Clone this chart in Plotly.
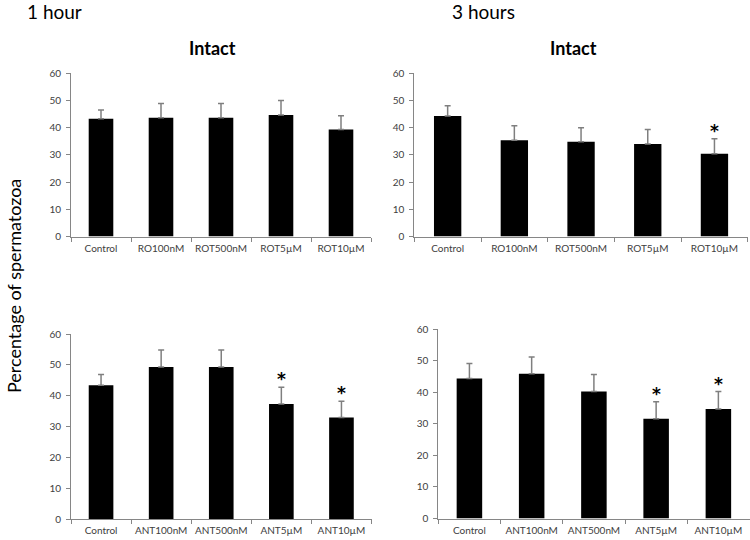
import plotly.graph_objects as go

# ---------------- data ----------------
rot_labels = ["Control", "RO100nM", "ROT500nM", "ROT5µM", "ROT10µM"]
ant_labels = ["Control", "ANT100nM", "ANT500nM", "ANT5µM", "ANT10µM"]

rot_1h_mean = [43.3, 43.7, 43.7, 44.7, 39.3]
rot_1h_err = [3.2, 5.2, 5.2, 5.3, 5.1]
rot_1h_sig = [False, False, False, False, False]

rot_3h_mean = [44.3, 35.4, 34.8, 34.0, 30.4]
rot_3h_err = [3.8, 5.3, 5.2, 5.3, 5.5]
rot_3h_sig = [False, False, False, False, True]

ant_1h_mean = [43.4, 49.3, 49.3, 37.3, 32.9]
ant_1h_err = [3.5, 5.5, 5.5, 5.4, 5.3]
ant_1h_sig = [False, False, False, True, True]

ant_3h_mean = [44.3, 45.8, 40.2, 31.6, 34.7]
ant_3h_err = [4.8, 5.3, 5.4, 5.4, 5.5]
ant_3h_sig = [False, False, False, True, True]

y_ticks = [0, 10, 20, 30, 40, 50, 60]

# ---------------- styling ----------------
FONT = "Lato, Open Sans, sans-serif"
AXIS_COLOR = "#868686"
TICK_COLOR = "#404040"
W, H = 750, 540


def px_x(v):
    return v / W


def px_y(v):
    return 1 - v / H


panels = [
    # labels, mean, err, sig, x-domain(px), y-domain(px top,bottom)
    (rot_labels, rot_1h_mean, rot_1h_err, rot_1h_sig, (71, 371), (73.3, 236.5)),
    (rot_labels, rot_3h_mean, rot_3h_err, rot_3h_sig, (414.3, 747.8), (73.3, 236.5)),
    (ant_labels, ant_1h_mean, ant_1h_err, ant_1h_sig, (71, 371.5), (334, 519)),
    (ant_labels, ant_3h_mean, ant_3h_err, ant_3h_sig, (438.3, 749.5), (329, 518.5)),
]

fig = go.Figure()
annotations = []
layout_axes = {}

for i, (labels, mean, err, sig, xd, yd) in enumerate(panels, start=1):
    xa = "x" if i == 1 else f"x{i}"
    ya = "y" if i == 1 else f"y{i}"
    fig.add_trace(go.Bar(
        x=labels, y=mean,
        xaxis=xa, yaxis=ya,
        marker=dict(color="black", line=dict(width=0)),
        error_y=dict(type="data", array=err, arrayminus=[0] * len(err),
                     symmetric=False, color="#7f7f7f", thickness=1.5, width=3),
        showlegend=False,
        hoverinfo="x+y",
    ))
    xkey = "xaxis" if i == 1 else f"xaxis{i}"
    ykey = "yaxis" if i == 1 else f"yaxis{i}"
    layout_axes[xkey] = dict(
        domain=[px_x(xd[0]), px_x(xd[1])],
        anchor=ya,
        type="category",
        automargin=False,
        tickangle=0,
        showline=True, linecolor=AXIS_COLOR, linewidth=1,
        ticks="outside", tickson="boundaries", ticklen=4, tickcolor=AXIS_COLOR,
        showgrid=False, zeroline=False,
        tickfont=dict(family=FONT, size=10, color=TICK_COLOR),
        ticklabelstandoff=2,
        fixedrange=True,
    )
    layout_axes[ykey] = dict(
        domain=[px_y(yd[1]), px_y(yd[0])],
        anchor=xa,
        automargin=False,
        range=[0, 60],
        tickvals=y_ticks,
        showline=True, linecolor=AXIS_COLOR, linewidth=1,
        ticks="outside", ticklen=4, tickcolor=AXIS_COLOR,
        showgrid=False, zeroline=False,
        tickfont=dict(family=FONT, size=10, color=TICK_COLOR),
        ticklabelstandoff=3,
        fixedrange=True,
    )
    for lab, m, e, s in zip(labels, mean, err, sig):
        if s:
            annotations.append(dict(
                x=lab, y=m + e, xref=xa, yref=ya,
                text="<b>*</b>", showarrow=False,
                font=dict(family="DejaVu Sans", size=17, color="black"),
                yanchor="middle", yshift=8,
            ))

# titles
annotations += [
    dict(x=px_x(25), y=px_y(11.5), xref="paper", yref="paper", xanchor="left", yanchor="middle",
         text="1 hour", showarrow=False, font=dict(family=FONT, size=19, color="black")),
    dict(x=px_x(450), y=px_y(11.5), xref="paper", yref="paper", xanchor="left", yanchor="middle",
         text="3 hours", showarrow=False, font=dict(family=FONT, size=19, color="black")),
    dict(x=px_x(212), y=px_y(47.5), xref="paper", yref="paper", xanchor="center", yanchor="middle",
         text="<b>Intact</b>", showarrow=False, font=dict(family=FONT, size=18, color="black")),
    dict(x=px_x(573), y=px_y(47.5), xref="paper", yref="paper", xanchor="center", yanchor="middle",
         text="<b>Intact</b>", showarrow=False, font=dict(family=FONT, size=18, color="black")),
    dict(x=px_x(14), y=px_y(286), xref="paper", yref="paper", xanchor="center", yanchor="middle",
         text="Percentage of spermatozoa", textangle=-90, showarrow=False,
         font=dict(family=FONT, size=18, color="black")),
]

fig.update_layout(
    width=W, height=H,
    margin=dict(l=0, r=0, t=0, b=0),
    paper_bgcolor="white", plot_bgcolor="white",
    bargap=0.59,
    annotations=annotations,
    **layout_axes,
)

fig.write_html("out.html", config={"displayModeBar": False},
               post_script="document.body.style.margin='0';")
